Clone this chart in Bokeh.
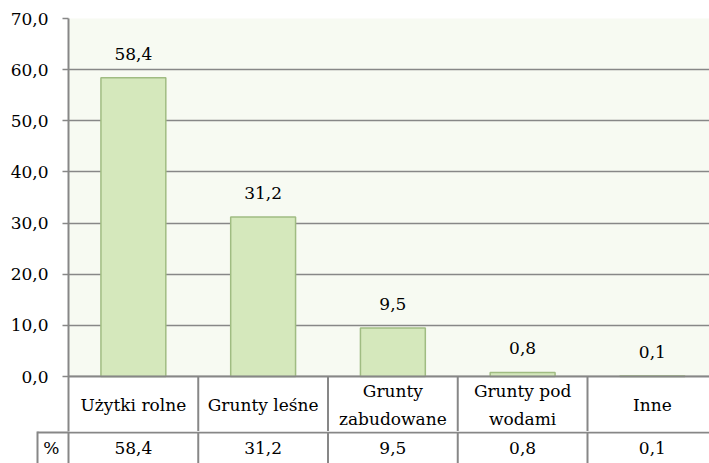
from bokeh.plotting import figure
from bokeh.layouts import column
from bokeh.models import Range1d, FixedTicker, CustomJSTickFormatter, ColumnDataSource, LinearAxis
from bokeh.core.properties import value
from bokeh.embed import file_html
from bokeh.resources import INLINE

# ---- data ----
categories = ["Użytki rolne", "Grunty leśne", "Grunty\nzabudowane", "Grunty pod\nwodami", "Inne"]
shares = [58.4, 31.2, 9.5, 0.8, 0.1]
y_ticks = [0, 10, 20, 30, 40, 50, 60, 70]
row_header = "%"

# ---- layout constants (pixels) ----
W, H = 709, 463
FRAME_LEFT = 68
TOP = 18
Y_MAX = 70
PX = 358 / 70.0           # pixels per unit
ZERO = TOP + Y_MAX * PX   # pixel row of y = 0
H1 = 431                  # height of the chart part (incl. first table row)
ROW_LINE_PX = 432
ROW1_MID_PX = 404
ROW2_MID_PX = 447
COL_PX = 129.75
PCT_W_PX = 31

FONT = "DejaVu Serif"
FS = "17px"
GRAY = "#878787"

x_end = (W - FRAME_LEFT) / COL_PX
to_y = lambda px: -(px - ZERO) / PX
y_start1 = to_y(H1)
row_line = to_y(ROW_LINE_PX)
row1_mid = to_y(ROW1_MID_PX)
row2_mid = to_y(ROW2_MID_PX)

fmt = lambda v: f"{v:.1f}".replace(".", ",")
xs = [i + 0.5 for i in range(len(categories))]
n = len(categories)

src = ColumnDataSource(dict(x=xs, top=shares, lab=[fmt(v) for v in shares], cat=categories))

# ================= chart + first table row =================
p = figure(width=W, height=H1, output_backend="svg", toolbar_location=None,
           x_range=Range1d(0, x_end), y_range=Range1d(y_start1, Y_MAX),
           x_axis_location=None, y_axis_location="left",
           min_border_left=FRAME_LEFT, min_border_right=0, min_border_top=TOP, min_border_bottom=0)
p.background_fill_color = "#F7FAF2"
p.border_fill_color = "white"
p.outline_line_color = None

ticker = FixedTicker(ticks=y_ticks)
p.yaxis.ticker = ticker
p.ygrid.ticker = ticker
p.xgrid.visible = False
p.ygrid.grid_line_color = GRAY
p.ygrid.grid_line_width = 1.5
p.yaxis.formatter = CustomJSTickFormatter(code="return tick.toFixed(1).replace('.', ',')")
p.yaxis.axis_line_color = GRAY
p.yaxis.axis_line_width = 2
p.yaxis.major_tick_line_color = GRAY
p.yaxis.major_tick_line_width = 1.5
p.yaxis.major_tick_out = 6
p.yaxis.major_tick_in = 0
p.yaxis.minor_tick_line_color = None
p.yaxis.major_label_standoff = 14
p.yaxis.major_label_text_font = FONT
p.yaxis.major_label_text_font_size = FS
p.yaxis.major_label_text_color = "black"

# first table row area (white)
p.quad(left=0, right=x_end, bottom=y_start1, top=0, fill_color="white", line_color=None)

# bars
p.vbar(x="x", top="top", bottom=0, width=0.5, source=src,
       fill_color="#D5E8BC", line_color="#A0BC82", line_width=1.5)

# value labels
p.text(x="x", y="top", text="lab", source=src, text_font=value(FONT), text_font_size=FS,
       text_align="center", text_baseline="middle", y_offset=-24, text_color="black")

# table lines, row 1
p.segment(x0=[0], x1=[x_end], y0=[0], y1=[0], line_color=GRAY, line_width=2)
p.segment(x0=list(range(1, n)), x1=list(range(1, n)), y0=[0] * (n - 1), y1=[y_start1] * (n - 1),
          line_color=GRAY, line_width=2)
p.text(x="x", y=row1_mid, text="cat", source=src, text_font=value(FONT), text_font_size=FS,
       text_align="center", text_baseline="middle", line_height=1.4, text_color="black")

# ================= second table row =================
q = figure(width=W, height=H - H1, output_backend="svg", toolbar_location=None,
           x_range=Range1d(0, x_end), y_range=Range1d(to_y(H), to_y(H1)),
           x_axis_location=None, y_axis_location=None,
           min_border_left=FRAME_LEFT, min_border_right=0, min_border_top=0, min_border_bottom=0)
q.background_fill_color = "white"
q.border_fill_color = "white"
q.outline_line_color = None
q.xgrid.visible = False
q.ygrid.visible = False

# header cell: inner axis carries the "%" text and the line at the table's left edge
head_axis = LinearAxis(ticker=FixedTicker(ticks=[row2_mid]),
                       formatter=CustomJSTickFormatter(args=dict(h=row_header), code="return h"),
                       axis_line_color=GRAY, axis_line_width=2,
                       major_tick_in=0, major_tick_out=0, minor_tick_line_color=None,
                       major_label_standoff=9,
                       major_label_text_baseline="middle",
                       major_label_text_font=FONT, major_label_text_font_size=FS,
                       major_label_text_color="black",
                       axis_label=" ", axis_label_standoff=-1, axis_label_text_font_size="1px")
# outer axis draws the header cell's left and top borders
edge_axis = LinearAxis(ticker=FixedTicker(ticks=[row_line]),
                       formatter=CustomJSTickFormatter(code="return ''"),
                       axis_line_color=GRAY, axis_line_width=2,
                       major_tick_in=PCT_W_PX, major_tick_out=0, major_tick_line_color=GRAY,
                       major_tick_line_width=2, minor_tick_line_color=None,
                       major_label_standoff=0)
q.add_layout(head_axis, "left")
q.add_layout(edge_axis, "left")

q.segment(x0=[0], x1=[x_end], y0=[row_line], y1=[row_line], line_color=GRAY, line_width=2)
q.segment(x0=list(range(1, n)), x1=list(range(1, n)), y0=[row_line] * (n - 1), y1=[to_y(H)] * (n - 1),
          line_color=GRAY, line_width=2)
q.text(x="x", y=row2_mid, text="lab", source=src, text_font=value(FONT), text_font_size=FS,
       text_align="center", text_baseline="middle", text_color="black")

layout = column(p, q, spacing=0)
open("out.html", "w").write(file_html(layout, INLINE))
